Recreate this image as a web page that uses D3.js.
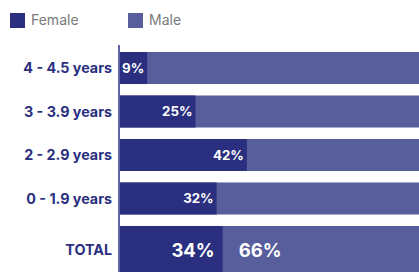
<!DOCTYPE html>
<html><head><meta charset="utf-8">
<script src="https://cdn.jsdelivr.net/npm/d3@7/dist/d3.min.js"></script>
<style>body{margin:0;background:#fff;overflow:hidden}svg{display:block}</style>
</head><body><div id="chart"></div>
<script>
const categories = ["4 - 4.5 years", "3 - 3.9 years", "2 - 2.9 years", "0 - 1.9 years", "TOTAL"];
const female = [9, 25, 42, 32, 34];
const male = [91, 75, 58, 68, 66];
const seriesNames = ["Female", "Male"];
const colors = ["#2a2f7f", "#585d9b"];

const W = 419, H = 272;
const svg = d3.select("#chart").append("svg").attr("width", W).attr("height", H);
const font = "Inter, 'DejaVu Sans', sans-serif";

const x = d3.scaleLinear().domain([0, 100]).range([120, 422]);
const y = d3.scaleBand().domain(categories).range([52, 258]).paddingInner(0.264).paddingOuter(0);

// legend
const leg = svg.append("g");
seriesNames.forEach((n, i) => {
  const lx = [10, 128][i];
  leg.append("rect").attr("x", lx).attr("y", 13).attr("width", 15).attr("height", 15).attr("fill", colors[i]);
  leg.append("text").attr("x", lx + 21).attr("y", 20.5).attr("dy", "0.35em")
    .attr("font-family", font).attr("font-size", 14).attr("fill", "#7a7a7a").text(n);
});

const rows = categories.map((c, i) => ({c, f: female[i], m: male[i], total: c === "TOTAL"}));
const bh = y.bandwidth();

const g = svg.append("g");
rows.forEach(r => {
  const h = r.total ? 60 : bh;
  g.append("rect").attr("x", x(0)).attr("y", y(r.c)).attr("width", x(100) - x(0)).attr("height", h).attr("fill", colors[1]);
  g.append("rect").attr("x", x(0)).attr("y", y(r.c)).attr("width", x(r.f) - x(0)).attr("height", h).attr("fill", colors[0]);
  const cy = y(r.c) + (r.total ? 24.5 : bh / 2);
  g.append("text").attr("x", 112).attr("y", cy).attr("dy", "0.35em").attr("text-anchor", "end")
    .attr("font-family", font).attr("font-weight", 700).attr("font-size", 14.3).attr("fill", "#2a2f7f").text(r.c);
  if (r.total) {
    g.append("text").attr("x", x(r.f) - 8).attr("y", cy).attr("dy", "0.35em").attr("text-anchor", "end")
      .attr("font-family", font).attr("font-weight", 700).attr("font-size", 18.5).attr("fill", "#fff").text(r.f + "%");
    g.append("text").attr("x", x(r.f) + 16).attr("y", cy).attr("dy", "0.35em").attr("text-anchor", "start")
      .attr("font-family", font).attr("font-weight", 700).attr("font-size", 18.5).attr("fill", "#fff").text(r.m + "%");
  } else {
    g.append("text").attr("x", x(r.f) - 3).attr("y", cy).attr("dy", "0.35em").attr("text-anchor", "end")
      .attr("font-family", font).attr("font-weight", 700).attr("font-size", 13.3).attr("fill", "#fff").text(r.f + "%");
  }
});

// axis line
svg.append("line").attr("x1", 119).attr("x2", 119).attr("y1", 45).attr("y2", H)
  .attr("stroke", "#2a2f7f").attr("stroke-width", 1.5);
</script></body></html>
